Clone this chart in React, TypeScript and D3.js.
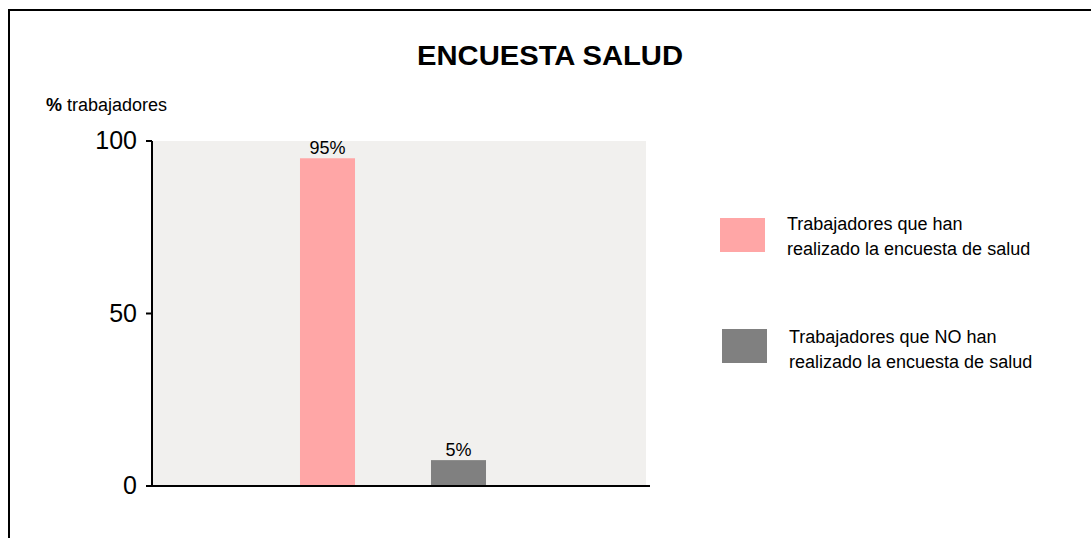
import React from "react";
import * as d3 from "d3";

const categories = ["Realizada", "No realizada"];
const values = [95, 7.5];
const valueLabels = ["95%", "5%"];
const colors = ["#FFA6A6", "#808080"];
const legendLines = [
  ["Trabajadores que han", "realizado la encuesta de salud"],
  ["Trabajadores que NO han", "realizado la encuesta de salud"],
];
const yTicks = [0, 50, 100];
const title = "ENCUESTA SALUD";

const W = 1091;
const H = 538;
const FONT = "'Liberation Sans', Arial, sans-serif";

export default function App() {
  const plotLeft = 153;
  const plotRight = 648;
  const plotTop = 141;
  const plotBottom = 486;

  const y = d3.scaleLinear().domain([0, 100]).range([plotBottom, plotTop]);
  const x = d3
    .scaleBand<string>()
    .domain(categories)
    .range([262, 524])
    .paddingInner(0.58)
    .paddingOuter(0.29);

  const legendRects = [
    { x: 720, y: 218 },
    { x: 722, y: 329 },
  ];
  const legendText = [
    { x: 787, y: 230 },
    { x: 789, y: 343 },
  ];

  return (
    <svg
      width={W}
      height={H}
      style={{ position: "absolute", left: 0, top: 0, display: "block" }}
      fontFamily={FONT}
    >
      <rect x={0} y={0} width={W} height={H} fill="#ffffff" />
      {/* outer frame (extends beyond right/bottom) */}
      <line x1={8} y1={10} x2={W} y2={10} stroke="#000" strokeWidth={2} />
      <line x1={9} y1={9} x2={9} y2={H} stroke="#000" strokeWidth={2} />

      <text
        x={550}
        y={65}
        textAnchor="middle"
        fontSize={28}
        fontWeight="bold"
        fill="#000"
        textLength={266}
        lengthAdjust="spacingAndGlyphs"
      >
        {title}
      </text>

      <text x={46} y={111} fontSize={18} fill="#000">
        <tspan fontWeight="bold">%</tspan>
        <tspan> trabajadores</tspan>
      </text>

      <rect
        x={plotLeft}
        y={plotTop}
        width={plotRight - plotLeft - 2}
        height={plotBottom - plotTop}
        fill="#F1F0EE"
      />

      {categories.map((c, i) => {
        const bx = x(c) as number;
        const by = y(values[i]);
        return (
          <g key={c}>
            <rect
              x={bx}
              y={by}
              width={x.bandwidth()}
              height={plotBottom - by}
              fill={colors[i]}
            />
            <text
              x={bx + x.bandwidth() / 2}
              y={by - 4}
              textAnchor="middle"
              fontSize={18}
              fill="#000"
            >
              {valueLabels[i]}
            </text>
          </g>
        );
      })}

      {/* y axis */}
      <line
        x1={152}
        y1={plotTop}
        x2={152}
        y2={plotBottom + 1}
        stroke="#000"
        strokeWidth={2}
      />
      {yTicks.map((t) => (
        <g key={t}>
          <line
            x1={146}
            y1={y(t)}
            x2={152}
            y2={y(t)}
            stroke="#000"
            strokeWidth={2}
          />
          <text
            x={137}
            y={y(t) + 8}
            textAnchor="end"
            fontSize={25}
            fill="#000"
          >
            {t}
          </text>
        </g>
      ))}
      {/* x axis */}
      <line
        x1={151}
        y1={plotBottom}
        x2={650}
        y2={plotBottom}
        stroke="#000"
        strokeWidth={2}
      />

      {legendLines.map((lines, i) => (
        <g key={i}>
          <rect
            x={legendRects[i].x}
            y={legendRects[i].y}
            width={45}
            height={34}
            fill={colors[i]}
          />
          {lines.map((ln, j) => (
            <text
              key={j}
              x={legendText[i].x}
              y={legendText[i].y + j * 25}
              fontSize={18}
              fill="#000"
            >
              {ln}
            </text>
          ))}
        </g>
      ))}
    </svg>
  );
}
